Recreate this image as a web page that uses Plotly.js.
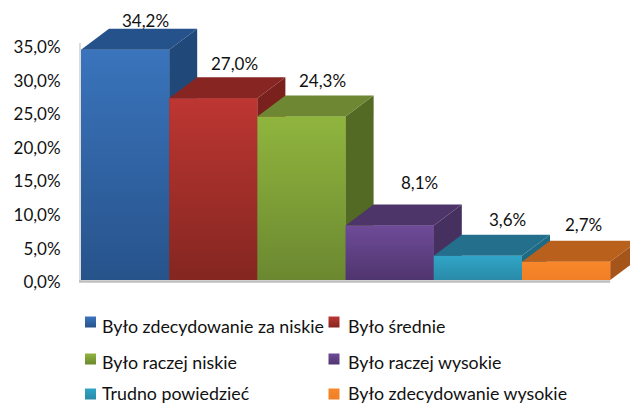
<!DOCTYPE html>
<html>
<head>
<meta charset="utf-8">
<script src="https://cdn.plot.ly/plotly-3.0.1.min.js"></script>
<style>html,body{margin:0;padding:0;background:#fff;overflow:hidden}#c{width:630px;height:405px}</style>
</head>
<body>
<div id="c"></div>
<script>
const categories = ['Było zdecydowanie za niskie','Było średnie','Było raczej niskie','Było raczej wysokie','Trudno powiedzieć','Było zdecydowanie wysokie'];
const values = [34.2,27.0,24.3,8.1,3.6,2.7];
const valueLabels = ['34,2%','27,0%','24,3%','8,1%','3,6%','2,7%'];
const tickValues = [0,5,10,15,20,25,30,35];
const tickLabels = ['0,0%','5,0%','10,0%','15,0%','20,0%','25,0%','30,0%','35,0%'];
const frontTop = ['#3a74bc','#bd3632','#90b53e','#6f4b98','#30a5c7','#f8882a'];
const frontBottom = ['#27538b','#842621','#6b8830','#4f356e','#2a8aa8','#f07f26'];
const topFace = ['#25528a','#872522','#6d8733','#4e3569','#236f8c','#b9601c'];
const sideFace = ['#204878','#7a211e','#536a24','#46305f','#1e6a85','#a5551a'];
const labelShiftX = [20,21,21,30,30,17];
const labelShiftY = [29,34.5,35.5,42.5,36,37];
const legendSwatch = [[90.5,322],[334,322],[90.5,359],[334,359],[90.5,394],[334,394]];
const legendText = [[100,325.5],[345.5,325.5],[100,361.5],[345.5,361.5],[100,393],[345.5,393]];

// pixel geometry of the plot frame
const W=630,H=405,X0=81,Y0=280,BW=88.2,PY=6.73,DX=28,DY=21;
const px2x=p=>(p-X0)/BW, py2y=p=>(Y0-p)/PY;
const dx=DX/BW, dy=DY/PY;

const poly=(xs,ys,extra)=>Object.assign({type:'scatter',mode:'lines',x:xs.concat(xs[0]),y:ys.concat(ys[0]),fill:'toself',line:{width:0},hoverinfo:'skip',showlegend:false},extra);

const traces=[];
// bars
traces.push({type:'bar',x:values.map((v,i)=>i+0.5),y:values,width:1,marker:{color:frontBottom,line:{width:0}},hoverinfo:'skip',showlegend:false});
// axis wall and floor
traces.push({type:'scatter',mode:'lines',x:[px2x(80),px2x(80)],y:[py2y(281),py2y(43)],line:{color:'#cfcfcf',width:1.5},hoverinfo:'skip',showlegend:false});
traces.push({type:'scatter',mode:'lines',x:[px2x(79),6],y:[py2y(281.5),py2y(281.5)],line:{color:'#bfbfbf',width:2.5},hoverinfo:'skip',showlegend:false});
values.forEach((v,i)=>{
  traces.push(poly([i+1,i+1+dx,i+1+dx,i+1],[0,dy,v+dy,v],{fillcolor:sideFace[i]}));
  traces.push(poly([i,i+dx,i+1+dx,i+1],[v,v+dy,v+dy,v],{fillcolor:topFace[i]}));
  traces.push(poly([i,i+1,i+1,i],[0,0,v,v],{fillgradient:{type:'vertical',start:v,stop:0,colorscale:[[0,frontTop[i]],[1,frontBottom[i]]]}}));
});
// legend swatches
categories.forEach((c,i)=>{
  traces.push({type:'scatter',mode:'markers',name:c,x:[px2x(legendSwatch[i][0])],y:[py2y(legendSwatch[i][1])],
    marker:{symbol:'square',size:11,color:frontTop[i],gradient:{type:'vertical',color:frontBottom[i]},line:{width:0}},hoverinfo:'skip',showlegend:false});
});

const F='Lato, sans-serif';
const annotations=[];
values.forEach((v,i)=>annotations.push({x:i+0.5,y:v,xref:'x',yref:'y',text:valueLabels[i],showarrow:false,xanchor:'center',yanchor:'middle',xshift:labelShiftX[i],yshift:labelShiftY[i],font:{family:F,size:17,color:'#111'}}));
categories.forEach((c,i)=>annotations.push({x:px2x(legendText[i][0]),y:py2y(legendText[i][1]),xref:'x',yref:'y',text:c,showarrow:false,xanchor:'left',yanchor:'middle',font:{family:F,size:17.8,color:'#111'}}));

const layout={
  width:W,height:H,showlegend:false,
  paper_bgcolor:'#fff',plot_bgcolor:'#fff',barmode:'overlay',
  margin:{l:78,r:0,t:0,b:0,pad:0},
  xaxis:{range:[px2x(78),px2x(630)],visible:false,fixedrange:true},
  yaxis:{range:[py2y(405),py2y(0)],tickmode:'array',tickvals:tickValues.map(v=>v-0.37),ticktext:tickLabels,showgrid:false,zeroline:false,showline:false,ticks:'outside',ticklen:13,tickcolor:'rgba(0,0,0,0)',tickfont:{family:F,size:17,color:'#111'},fixedrange:true},
  annotations
};
Plotly.newPlot('c',traces,layout,{displayModeBar:false,staticPlot:true});
</script>
</body>
</html>
